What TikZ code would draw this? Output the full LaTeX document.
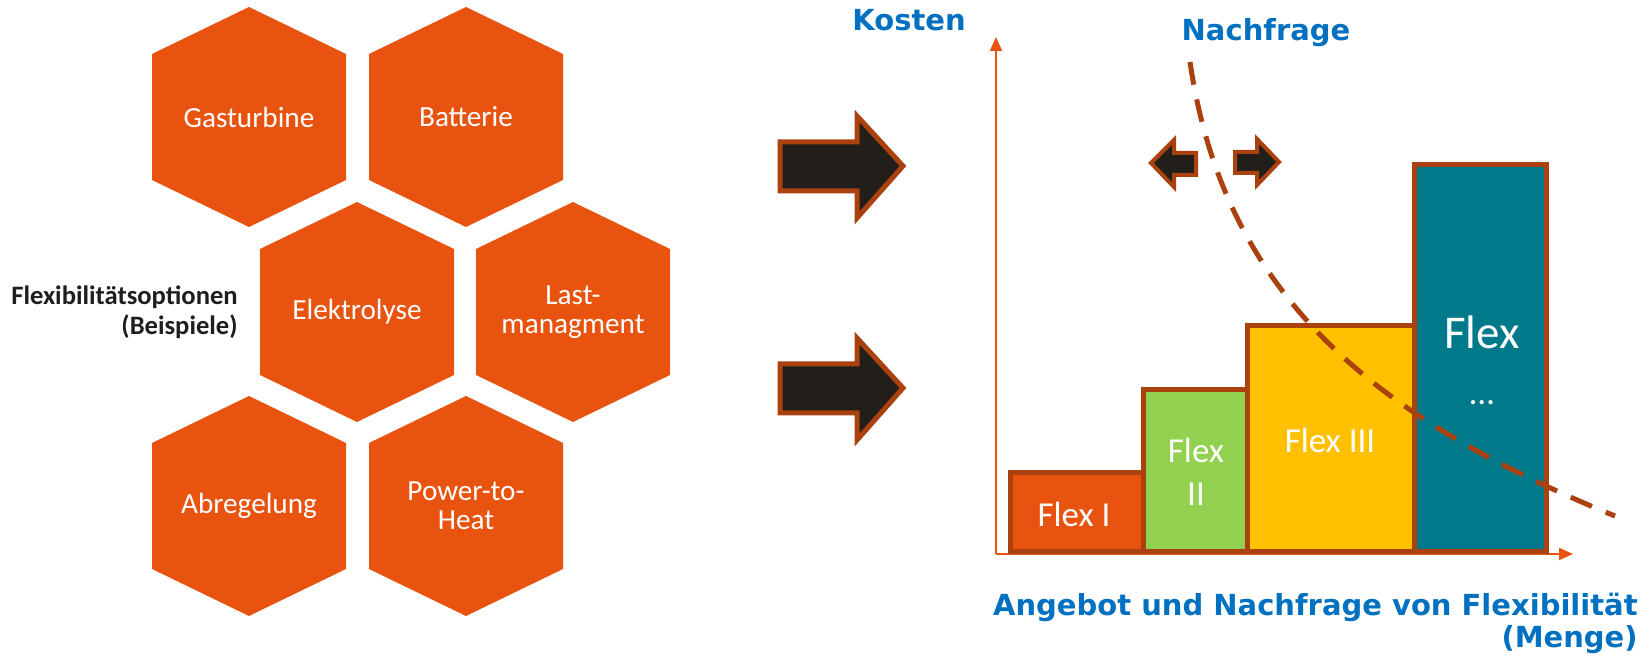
\documentclass[tikz,border=0pt]{standalone}
\usepackage{fontspec}
\setmainfont{Carlito}
\newfontfamily\axisfont{DejaVu Sans}
\usetikzlibrary{arrows.meta}
\definecolor{hexorange}{RGB}{232,84,16}
\definecolor{rimbrown}{RGB}{170,65,15}
\definecolor{arrowblack}{RGB}{34,30,26}
\definecolor{flexgreen}{RGB}{146,208,80}
\definecolor{flexyellow}{RGB}{255,192,0}
\definecolor{flexteal}{RGB}{0,122,138}
\definecolor{labelblue}{RGB}{0,112,192}
\definecolor{labelblack}{RGB}{30,30,30}
\tikzset{
  hexfill/.style={fill=hexorange},
  hextext/.style={text=white, align=center, inner sep=0pt, font=\fontsize{14.6}{14.5}\selectfont},
  bar/.style={draw=rimbrown, line width=2.5pt},
  bartext/.style={text=white, align=center, inner sep=0pt, font=\fontsize{17.5}{21.5}\selectfont},
  blockarrow/.style={draw=rimbrown, fill=arrowblack, line width=2.5pt, line join=miter},
  smallarrow/.style={draw=rimbrown, fill=arrowblack, line width=2pt},
  axisline/.style={draw=hexorange, line width=1pt},
  demand/.style={draw=rimbrown, line width=2.5pt, dash pattern=on 11.5pt off 7.5pt},
  axislabel/.style={text=labelblue, inner sep=0pt, font=\axisfont\bfseries\fontsize{14.5}{16}\selectfont},
}
\begin{document}
\begin{tikzpicture}[x=0.5pt,y=-0.5pt]
\useasboundingbox (0,0) rectangle (1650,656);
%flexibility options
\foreach \x/\y/\n/\t in {249/117/gas/Gasturbine, 466/117/bat/Batterie, 357/312/ely/Elektrolyse,
  573/312/last/{Last-\\managment}, 249/506/abr/Abregelung, 466/506/pth/{Power-to-\\Heat}}
{
  \fill[hexfill] (\x,\y) +(0,-110) -- +(97,-63) -- +(97,63) -- +(0,110) -- +(-97,63) -- +(-97,-63) -- cycle;
  \node[hextext] (\n) at (\x,\y) {\t};
}
\node[anchor=east, align=right, inner sep=0pt, text=labelblack, font=\bfseries\fontsize{13.3}{14.8}\selectfont] (opts) at (238,312) {Flexibilitätsoptionen\\(Beispiele)};
%big arrows
\foreach \dy in {0,222}
  \draw[blockarrow, shift={(0,\dy)}] (780,142) -- (857,142) -- (857,116) -- (903,166) -- (857,218) -- (857,191) -- (780,191) -- cycle;
%axes
\coordinate (origin) at (996,554);
\coordinate (ytip) at (996,37);
\coordinate (xtip) at (1573,554);
\draw[axisline, -{Triangle[length=7pt,width=6pt]}] (origin) -- (ytip);
\draw[axisline, -{Triangle[length=7pt,width=6pt]}] (origin) -- (xtip);
%supply bars
\draw[bar, fill=hexorange] (1010,552) rectangle (1143,473);
\draw[bar, fill=flexgreen] (1143,552) rectangle (1247,390);
\draw[bar, fill=flexyellow] (1247,552) rectangle (1414,326);
\draw[bar, fill=flexteal] (1414,552) rectangle (1546,165);
\node[bartext] (flexI) at (1074,514) {Flex I};
\node[bartext] (flexII) at (1196,472) {Flex\\II};
\node[bartext] (flexIII) at (1330,440) {Flex III};
\node[bartext, font=\fontsize{23.5}{28}\selectfont] (flexN) at (1482,332) {Flex};
\node[bartext, anchor=base] (dots) at (1482,405) {…};
%demand curve
\draw[demand] (1190,62) .. controls (1225,300) and (1380,420) .. (1615,516);
\draw[smallarrow] (1151,163) -- (1174,140) -- (1174,153) -- (1196,153) -- (1196,175) -- (1174,175) -- (1174,187) -- cycle;
\draw[smallarrow] (1279,162) -- (1257,139) -- (1257,152) -- (1235,152) -- (1235,173) -- (1257,173) -- (1257,185) -- cycle;
%labels
\node[axislabel] (kosten) at (909,20) {Kosten};
\node[axislabel] (nachfrage) at (1266,33) {Nachfrage};
\node[axislabel, anchor=east, align=right] (menge) at (1638,623) {Angebot und Nachfrage von Flexibilität\\(Menge)};
\end{tikzpicture}
\end{document}
